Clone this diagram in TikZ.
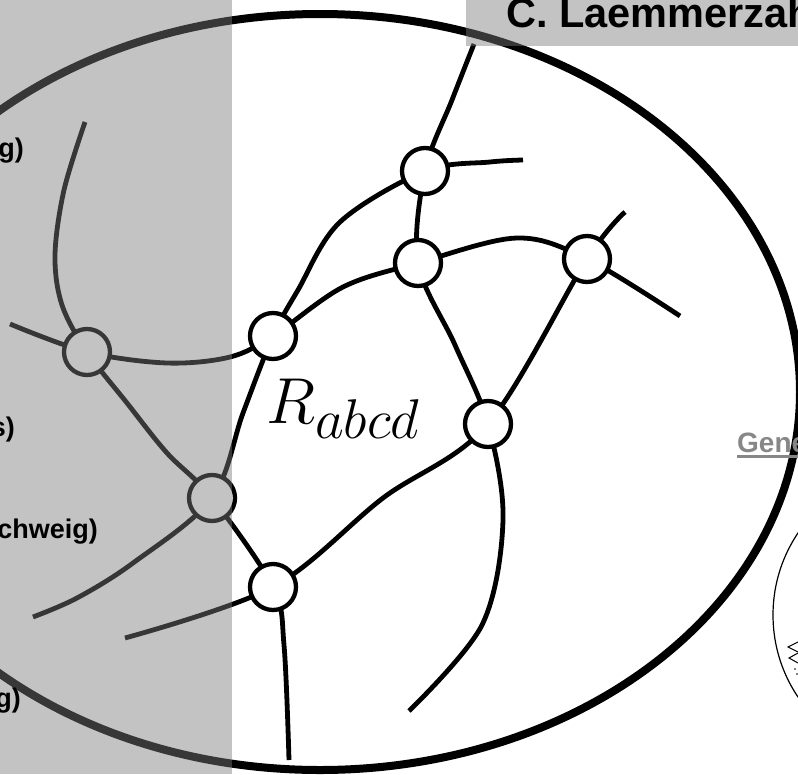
\RequirePackage{fix-cm}
\documentclass[tikz,border=0pt]{standalone}
\usepackage{fontspec}
\newfontfamily\hv{Liberation Sans}
\begin{document}
\begin{tikzpicture}[x=1pt,y=-1pt,
  edge/.style={line width=4.8pt},
  vtx/.style={circle, draw, line width=4.3pt, fill=white, minimum size=46pt, inner sep=0pt},
  ov/.style={fill=black!52, opacity=0.45},
  lft/.style={font=\hv\bfseries\fontsize{27}{27}\selectfont, anchor=base east, inner sep=0pt}]
\useasboundingbox (0,0) rectangle (798,774);
\clip (0,0) rectangle (798,774);
\fill[white] (0,0) rectangle (798,774);
% big ellipse
\draw[line width=8pt] (320,392) ellipse [x radius=480, y radius=378];
% node centres
\coordinate (n1) at (425,171);
\coordinate (n2) at (418,263);
\coordinate (n3) at (587,259);
\coordinate (n4) at (273,336);
\coordinate (n5) at (488,424);
\coordinate (n6) at (87,352);
\coordinate (n7) at (212,498);
\coordinate (n8) at (273,587);
% free ends
\coordinate (eA1) at (474,44);
\coordinate (eA2) at (409,711);
\coordinate (eB1) at (85,122);
\coordinate (eB2) at (289,760);
\coordinate (eC1) at (523,160);
\coordinate (eC2) at (33,617);
\coordinate (eD1) at (10,324);
\coordinate (eD2) at (680,316);
\coordinate (eE1) at (625,212);
\coordinate (eE2) at (125,638);
% curves
\draw[edge] plot[smooth, tension=0.55] coordinates {(eA1) (452,100) (n1) (n2) (455,345) (n5) (503,520) (482,625) (eA2)};
\draw[edge] plot[smooth, tension=0.55] coordinates {(eB1) (64,190) (55,255) (62,305) (n6) (127,403) (167,453) (n7) (n8) (284,645) (eB2)};
\draw[edge] plot[smooth, tension=0.55] coordinates {(eC1) (490,162) (n1) (340,222) (298,290) (n4) (243,413) (n7) (133,563) (77,598) (eC2)};
\draw[edge] plot[smooth, tension=0.55] coordinates {(eD1) (n6) (167,363) (230,357) (n4) (343,287) (n2) (517,238) (n3) (eD2)};
\draw[edge] plot[smooth, tension=0.55] coordinates {(eE1) (n3) (n5) (383,498) (n8) (eE2)};
% vertices
\foreach \v in {1,...,8} \node[vtx] (c\v) at (n\v) {};
% label
\node[anchor=base west, inner sep=0pt, font=\fontsize{65}{65}\selectfont] (lbl) at (266,423)
  {$R$\raisebox{-15pt}{\fontsize{56}{56}\selectfont$abcd$}};
% partial dial bottom right
\draw[line width=1.2pt] (920,615) circle [radius=147];
\draw[line width=1pt] (798,642) -- (788,647) -- (798,652);
\draw[line width=1pt] (798,653) -- (789,658) -- (798,663);
\fill (795,669) circle [radius=0.9] (797,674) circle [radius=0.9];
% Gene link
\node[anchor=base west, inner sep=0pt, text=black!47, font=\hv\bfseries\fontsize{28}{28}\selectfont] (gen) at (737,452) {Gene};
\fill[black!47] (737,455) rectangle (798,458);
% grey overlays
\fill[ov] (0,0) rectangle (232,774);
\fill[ov] (466,0) rectangle (798,46);
% texts
\node[anchor=base west, inner sep=0pt, font=\hv\bfseries\fontsize{41.5}{41.5}\selectfont] (title) at (506,27) {C. Laemmerzahl};
\node[lft] (t1) at (24,157) {g)};
\node[lft] (t2) at (15,436) {s)};
\node[lft] (t3) at (98,538) {chweig)};
\node[lft] (t4) at (21,707) {g)};
\end{tikzpicture}
\end{document}
